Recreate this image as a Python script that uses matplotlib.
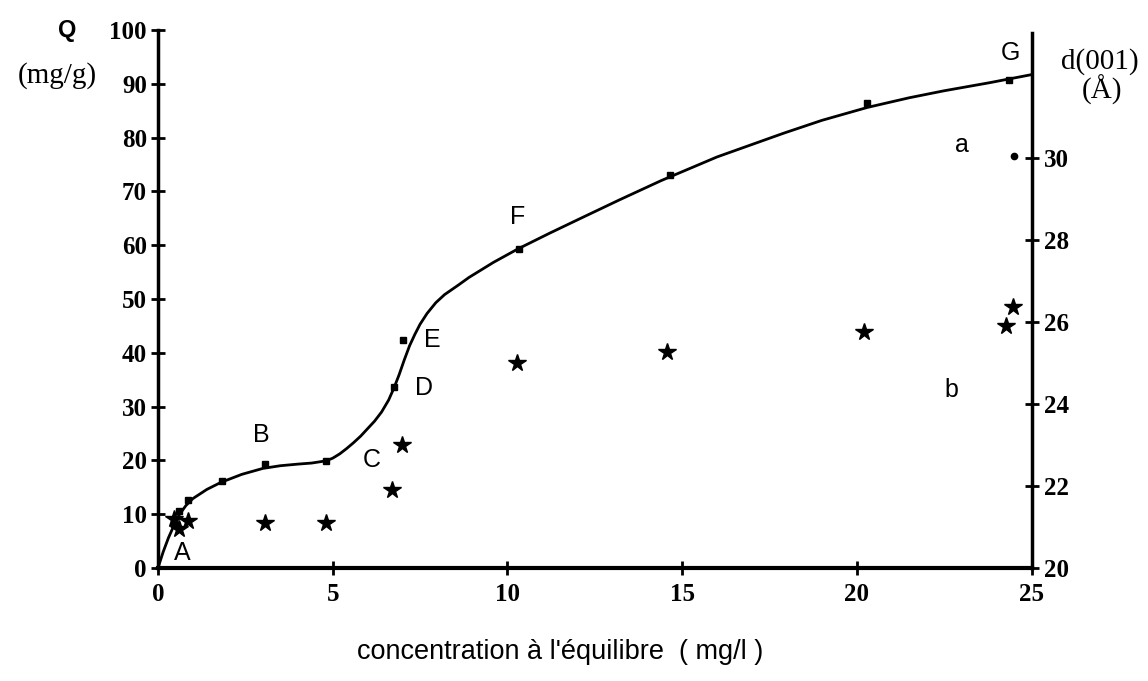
import matplotlib
matplotlib.use("Agg")
import matplotlib.pyplot as plt

# isotherm curve
curve_x = [0, 0.15, 0.3, 0.45, 0.6, 0.8, 1.0, 1.4, 1.8, 2.4, 3.0, 3.5, 4.0, 4.4, 4.8,
           5.0, 5.2, 5.4, 5.6, 5.8, 6.0, 6.2, 6.4, 6.6, 6.75, 6.9, 7.05, 7.2, 7.35, 7.5,
           7.7, 7.95, 8.2, 8.6, 8.9, 9.6, 10.3, 11.2, 12.1, 13.2, 14.4, 16.0, 17.9, 19.0,
           20.3, 21.5, 22.5, 23.8, 25]
curve_q = [0, 3.0, 5.6, 7.8, 9.8, 11.6, 12.9, 14.6, 15.9, 17.4, 18.5, 19.0, 19.3, 19.5, 19.9,
           20.4, 21.2, 22.2, 23.3, 24.5, 25.9, 27.3, 29.0, 31.2, 33.4, 35.9, 38.7, 41.3, 43.4, 45.3,
           47.3, 49.3, 50.8, 52.6, 54.0, 56.8, 59.3, 62.2, 65.0, 68.4, 72.0, 76.4, 80.8, 83.2,
           85.6, 87.4, 88.7, 90.2, 91.7]

# measured Q points (dots)
q_x = [0.45, 0.6, 0.86, 1.83, 3.06, 4.8, 6.75, 7.0, 10.33, 14.65, 20.3, 24.34]
q_val = [8.5, 10.6, 12.6, 16.2, 19.3, 19.9, 33.6, 42.4, 59.3, 73.0, 86.4, 90.7]

# d(001) spacing, right axis (stars)
d_x = [0.45, 0.6, 0.85, 3.06, 4.8, 6.7, 6.98, 10.27, 14.56, 20.2, 24.26, 24.48]
d_val = [21.2, 20.95, 21.15, 21.1, 21.1, 21.9, 23.0, 25.0, 25.27, 25.76, 25.9, 26.37]

# d(001) spacing, phase a (dot)
da_x = [24.5]
da_val = [30.05]

point_labels = ["A", "B", "C", "D", "E", "F", "G", "a", "b"]
label_x = [0.69, 2.97, 6.12, 7.6, 7.84, 10.3, 24.4, 23.0, 22.7]
label_q = [2.8, 24.7, 20.1, 33.5, 42.4, 65.3, 95.7, 78.7, 33.1]

left_ticks = [0, 10, 20, 30, 40, 50, 60, 70, 80, 90, 100]
right_ticks = [20, 22, 24, 26, 28, 30]
x_ticks = [0, 5, 10, 15, 20, 25]

serif = "Liberation Serif"
sans = "Liberation Sans"

fig = plt.figure(figsize=(11.48, 6.81), dpi=100)
ax = fig.add_axes([0.1376, 0.166, 0.761, 0.790])
ax2 = ax.twinx()

ax.plot(curve_x, curve_q, color="black", lw=2.0, solid_capstyle="round",
        solid_joinstyle="round", zorder=3)
ax.plot(q_x, q_val, ls="none", marker="s", ms=4, color="black", zorder=4)
ax2.plot(d_x, d_val, ls="none", marker="*", ms=13, color="black", zorder=4)
ax2.plot(da_x, da_val, ls="none", marker="o", ms=4.5, color="black", zorder=4)

for t, lx, ly in zip(point_labels, label_x, label_q):
    ax.text(lx, ly, t, fontsize=18, family=sans, ha="center", va="center")

ax.set_xlim(0, 25)
ax.set_ylim(0, 100)
ax2.set_ylim(20, 20 + 538 / 41)

for a in (ax, ax2):
    a.spines["top"].set_visible(False)
    a.patch.set_visible(False)
ax.spines["right"].set_visible(False)
ax2.spines["left"].set_visible(False)
ax2.spines["bottom"].set_visible(False)
ax.spines["left"].set_linewidth(2.5)
ax.spines["bottom"].set_linewidth(3.0)
ax2.spines["right"].set_linewidth(2.5)
ax2.spines["right"].set_bounds(20, 33.05)

ax.set_xticks(x_ticks)
ax.set_yticks(left_ticks)
ax2.set_yticks(right_ticks)
ax.tick_params(axis="x", direction="inout", length=10, width=2, pad=6)
ax.tick_params(axis="y", direction="inout", length=10, width=2, pad=3)
ax2.tick_params(axis="y", direction="inout", length=10, width=2, pad=4)
for lab in ax.get_xticklabels() + ax.get_yticklabels() + ax2.get_yticklabels():
    lab.set_fontfamily(serif)
    lab.set_fontweight("bold")
    lab.set_fontsize(18)

fig.text(67 / 1148, 1 - 30 / 681, "Q", fontsize=17, family=sans, fontweight="bold",
         ha="center", va="center")
fig.text(57 / 1148, 1 - 76 / 681, "(mg/g)", fontsize=21, family=serif,
         ha="center", va="center")
fig.text(1100 / 1148, 1 - 62 / 681, "d(001)", fontsize=21, family=serif,
         ha="center", va="center")
fig.text(1102 / 1148, 1 - 90 / 681, "(Å)", fontsize=21, family=serif,
         ha="center", va="center")
fig.text(560 / 1148, 1 - 652 / 681, "concentration à l'équilibre  ( mg/l )", fontsize=19.5,
         family=sans, ha="center", va="center")

fig.savefig("out.png", dpi=100)
